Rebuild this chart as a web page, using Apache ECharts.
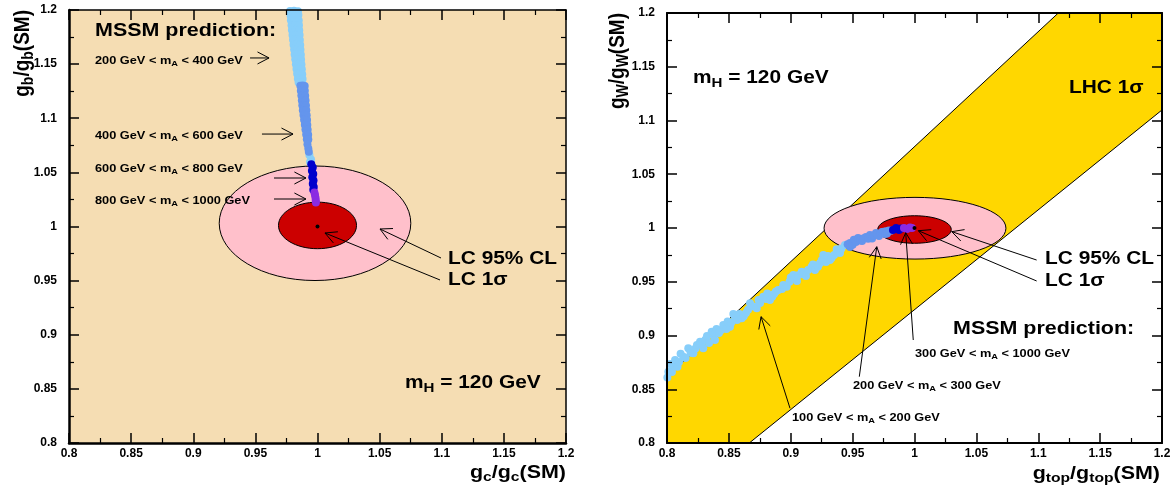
<!DOCTYPE html>
<html>
<head>
<meta charset="utf-8">
<script src="https://cdn.jsdelivr.net/npm/echarts@6/dist/echarts.min.js"></script>
<style>
html, body { margin: 0; padding: 0; background: #fff; }
#chart { width: 1170px; height: 491px; }
</style>
</head>
<body>
<div id="chart"></div>
<script>
var FONT = "'Liberation Sans', Arial, Helvetica, sans-serif";

// tick labels, same on all four axes
var tickLabels = ['0.8', '0.85', '0.9', '0.95', '1', '1.05', '1.1', '1.15', '1.2'];

// left panel: g_b vs g_c, MSSM points by m_A range
var bbLight = [
  [0.9779, 1.1990], [0.9811, 1.1992], [0.9843, 1.1988],
  [0.9783, 1.1950], [0.9816, 1.1948], [0.9846, 1.1953],
  [0.9786, 1.1905], [0.9818, 1.1908], [0.9849, 1.1902],
  [0.9791, 1.1860], [0.9821, 1.1862], [0.9851, 1.1858],
  [0.9794, 1.1815], [0.9825, 1.1818], [0.9853, 1.1812],
  [0.9799, 1.1770], [0.9828, 1.1772], [0.9856, 1.1768],
  [0.9803, 1.1725], [0.9831, 1.1728], [0.9858, 1.1722],
  [0.9807, 1.1680], [0.9834, 1.1683], [0.9861, 1.1677],
  [0.9812, 1.1635], [0.9838, 1.1638], [0.9863, 1.1632],
  [0.9816, 1.1590], [0.9841, 1.1593], [0.9866, 1.1587],
  [0.9821, 1.1545], [0.9845, 1.1548], [0.9868, 1.1542],
  [0.9826, 1.1500], [0.9849, 1.1503], [0.9871, 1.1497],
  [0.9831, 1.1455], [0.9853, 1.1458], [0.9874, 1.1452],
  [0.9836, 1.1410], [0.9857, 1.1413], [0.9877, 1.1407],
  [0.9842, 1.1365], [0.9861, 1.1368], [0.9880, 1.1362],
  [0.9848, 1.1330], [0.9876, 1.1328],
  [0.9935, 1.0660], [0.9948, 1.0620], [0.9940, 1.0595]
];
var bbCorn = [
  [0.9862, 1.1300], [0.9882, 1.1302], [0.9897, 1.1298],
  [0.9866, 1.1255], [0.9898, 1.1253],
  [0.9870, 1.1210], [0.9886, 1.1212], [0.9901, 1.1208],
  [0.9874, 1.1165], [0.9904, 1.1163],
  [0.9878, 1.1120], [0.9893, 1.1122], [0.9907, 1.1118],
  [0.9882, 1.1075], [0.9910, 1.1073],
  [0.9887, 1.1030], [0.9900, 1.1032], [0.9913, 1.1028],
  [0.9892, 1.0985], [0.9916, 1.0983],
  [0.9898, 1.0940], [0.9918, 1.0938],
  [0.9903, 1.0895], [0.9921, 1.0893],
  [0.9909, 1.0850], [0.9925, 1.0848],
  [0.9914, 1.0805], [0.9926, 1.0803],
  [0.9919, 1.0760], [0.9926, 1.0720], [0.9930, 1.0690]
];
var bbBlue = [
  [0.9950, 1.0575], [0.9962, 1.0545], [0.9955, 1.0515], [0.9966, 1.0485],
  [0.9958, 1.0455], [0.9968, 1.0425], [0.9962, 1.0395], [0.9970, 1.0365], [0.9966, 1.0340]
];
var bbPurple = [[0.9975, 1.0315], [0.9980, 1.0290], [0.9984, 1.0265], [0.9986, 1.0240], [0.9987, 1.0222]];

// ellipses: [cx, cy, rx, ry]
var pinkL = [0.998, 1.003, 0.0771, 0.0529];
var redL = [1.0, 1.001, 0.0314, 0.0215];
var pinkR = [1.0004, 0.9998, 0.0735, 0.0287];
var redR = [1.0, 0.9986, 0.0297, 0.0128];
var smPoint = [[1.0, 1.0]];

// right panel: g_W vs g_top
var wwLight = [
  [0.8003, 0.8610], [0.8011, 0.8663], [0.8024, 0.8735], [0.8040, 0.8660], [0.8051, 0.8710],
  [0.8065, 0.8772], [0.8085, 0.8710], [0.8097, 0.8753], [0.8110, 0.8830], [0.8132, 0.8803],
  [0.8150, 0.8790], [0.8172, 0.8881], [0.8190, 0.8840], [0.8213, 0.8834], [0.8230, 0.8880],
  [0.8242, 0.8912], [0.8267, 0.8942], [0.8280, 0.8920], [0.8293, 0.8881], [0.8310, 0.8960],
  [0.8323, 0.8995], [0.8340, 0.8930], [0.8361, 0.9035], [0.8375, 0.9000], [0.8388, 0.8958],
  [0.8400, 0.9060], [0.8420, 0.9023], [0.8435, 0.9050], [0.8455, 0.9098], [0.8480, 0.9060],
  [0.8490, 0.9130], [0.8509, 0.9082], [0.8520, 0.9120], [0.8536, 0.9200], [0.8550, 0.9170],
  [0.8566, 0.9144], [0.8585, 0.9200], [0.8604, 0.9160], [0.8620, 0.9180], [0.8638, 0.9209],
  [0.8655, 0.9240], [0.8671, 0.9300], [0.8700, 0.9270], [0.8725, 0.9253], [0.8740, 0.9330],
  [0.8752, 0.9302], [0.8778, 0.9361], [0.8800, 0.9340], [0.8810, 0.9390], [0.8832, 0.9330],
  [0.8850, 0.9360], [0.8865, 0.9386], [0.8880, 0.9410], [0.8899, 0.9423], [0.8929, 0.9433],
  [0.8940, 0.9470], [0.8967, 0.9454], [0.8990, 0.9500], [0.9000, 0.9540], [0.9021, 0.9563],
  [0.9050, 0.9507], [0.9060, 0.9560], [0.9088, 0.9593], [0.9100, 0.9570], [0.9123, 0.9553],
  [0.9140, 0.9610], [0.9169, 0.9640], [0.9180, 0.9660], [0.9196, 0.9609], [0.9220, 0.9640],
  [0.9236, 0.9672], [0.9250, 0.9700], [0.9263, 0.9749], [0.9285, 0.9684], [0.9300, 0.9740],
  [0.9317, 0.9702], [0.9330, 0.9720], [0.9350, 0.9749], [0.9371, 0.9802], [0.9398, 0.9767],
  [0.9410, 0.9810], [0.9438, 0.9842]
];
var wwCorn = [
  [0.9460, 0.9850], [0.9479, 0.9860], [0.9479, 0.9823], [0.9500, 0.9845], [0.9510, 0.9890],
  [0.9527, 0.9870], [0.9544, 0.9907], [0.9560, 0.9885], [0.9576, 0.9879], [0.9590, 0.9905],
  [0.9608, 0.9916], [0.9625, 0.9900], [0.9640, 0.9935], [0.9657, 0.9902], [0.9670, 0.9930],
  [0.9689, 0.9953], [0.9700, 0.9945], [0.9713, 0.9926], [0.9725, 0.9950], [0.9737, 0.9963],
  [0.9750, 0.9965], [0.9762, 0.9944], [0.9770, 0.9970], [0.9778, 0.9949], [0.9794, 0.9977],
  [0.9810, 0.9975]
];
var wwBlue = [[0.9826, 0.9981], [0.9851, 1.0000], [0.9875, 0.9981], [0.9891, 0.9995]];
var wwPurple = [[0.9915, 1.0000], [0.9939, 0.9991], [0.9964, 1.0005], [0.9980, 1.0000]];

// LHC 1 sigma band outline
var bandX = [0.8, 0.8665, 1.2, 1.2, 1.1162, 0.8];
var bandY = [0.8, 0.8, 1.1098, 1.2, 1.2, 0.8617];

// arrows [x tail, y tail, x head, y head]
var arrowsL = [
  [0.9457, 1.1557, 0.9610, 1.1557],
  [0.9553, 1.0854, 0.9803, 1.0854],
  [0.9650, 1.0448, 0.9907, 1.0448],
  [0.9650, 1.0254, 0.9907, 1.0254],
  [1.0994, 0.9709, 1.0503, 0.9977],
  [1.0986, 0.9506, 1.0060, 0.9940]
];
var arrowsR = [
  [0.8994, 0.8323, 0.8760, 0.9175],
  [0.9554, 0.8617, 0.9695, 0.9826],
  [0.9990, 0.8958, 0.9929, 0.9956],
  [1.0987, 0.9702, 1.0301, 0.9966],
  [1.0987, 0.9507, 1.0031, 0.9975]
];

function axis(grid, pos, showLabel, lw) {
  return {
    type: 'value', gridIndex: grid, position: pos, min: 0.8, max: 1.2, interval: 0.05, z: 10,
    axisLine: { show: true, onZero: false, lineStyle: { color: '#000', width: lw } },
    axisTick: { show: true, inside: true, length: 10, lineStyle: { color: '#000', width: 1.5 } },
    minorTick: { show: true, splitNumber: 2, length: 5, lineStyle: { color: '#000', width: 1.2 } },
    splitLine: { show: false },
    axisLabel: {
      show: showLabel, color: '#000', fontFamily: FONT, fontWeight: 'bold', fontSize: 12,
      margin: (pos === 'bottom' ? 5 : 12),
      formatter: function (v, i) { return tickLabels[i]; }
    }
  };
}

function pts(data, color, ai, size) {
  return {
    type: 'scatter', xAxisIndex: ai, yAxisIndex: ai, data: data, symbolSize: size || 8,
    itemStyle: { color: color, opacity: 1 }, z: 3, silent: true
  };
}

function ellipse(e, color, ai) {
  return {
    type: 'custom', xAxisIndex: ai, yAxisIndex: ai, data: [e], z: 2, silent: true,
    renderItem: function (params, api) {
      var c = api.coord([api.value(0), api.value(1)]);
      var s = api.size([api.value(2), api.value(3)]);
      return {
        type: 'ellipse',
        shape: { cx: c[0], cy: c[1], rx: s[0], ry: s[1] },
        style: { fill: color, stroke: '#000', lineWidth: 1 }
      };
    }
  };
}

function arrows(data, ai) {
  return {
    type: 'custom', xAxisIndex: ai, yAxisIndex: ai, data: data, z: 5, silent: true,
    renderItem: function (params, api) {
      var p1 = api.coord([api.value(0), api.value(1)]);
      var p2 = api.coord([api.value(2), api.value(3)]);
      var ang = Math.atan2(p2[1] - p1[1], p2[0] - p1[0]);
      var L = 13, a = 0.48;
      var h1 = [p2[0] - L * Math.cos(ang - a), p2[1] - L * Math.sin(ang - a)];
      var h2 = [p2[0] - L * Math.cos(ang + a), p2[1] - L * Math.sin(ang + a)];
      return {
        type: 'group', children: [
          { type: 'line', shape: { x1: p1[0], y1: p1[1], x2: p2[0], y2: p2[1] }, style: { stroke: '#000', lineWidth: 1 } },
          { type: 'polyline', shape: { points: [h1, p2, h2] }, style: { stroke: '#000', fill: null, lineWidth: 1 } }
        ]
      };
    }
  };
}

function label(x, y, text, size, subSize, drop, align) {
  return {
    type: 'text', x: x, y: y, scaleX: 1.16, z: 100, silent: true,
    style: {
      text: text, fill: '#000', fontFamily: FONT, fontWeight: 'bold', fontSize: size,
      lineHeight: Math.round(size * 1.25), align: align || 'left', verticalAlign: 'middle',
      rich: { s: { fill: '#000', fontFamily: FONT, fontWeight: 'bold', fontSize: subSize, lineHeight: drop, verticalAlign: 'bottom' } }
    }
  };
}

function vtitle(x, y, text) {
  var el = label(x, y, text, 19, 14, 10, 'right');
  el.rotation = Math.PI / 2;
  el.scaleX = 1;
  el.scaleY = 1.12;
  return el;
}

var chart = echarts.init(document.getElementById('chart'));
chart.setOption({
  animation: false,
  grid: [
    { left: 69, top: 10, width: 497, height: 433, show: true, backgroundColor: '#F5DDB3', borderWidth: 0, outerBoundsMode: 'none' },
    { left: 667, top: 13, width: 495, height: 430, show: true, backgroundColor: '#fff', borderWidth: 0, outerBoundsMode: 'none' }
  ],
  xAxis: [axis(0, 'bottom', true, 2.5), axis(0, 'top', false, 1.5), axis(1, 'bottom', true, 2), axis(1, 'top', false, 2)],
  yAxis: [axis(0, 'left', true, 2.5), axis(0, 'right', false, 1.5), axis(1, 'left', true, 2), axis(1, 'right', false, 2)],
  series: [
    ellipse(pinkL, '#FFC0CB', 0),
    ellipse(redL, '#CC0000', 0),
    pts(bbLight, '#87CEFA', 0),
    pts(bbCorn, '#6495ED', 0),
    pts(bbBlue, '#0000CD', 0),
    pts(bbPurple, '#8A2BE2', 0),
    pts(smPoint, '#000', 0, 4),
    arrows(arrowsL, 0),
    {
      type: 'custom', xAxisIndex: 2, yAxisIndex: 2, data: [[bandX[0], bandY[0]]], z: 1, silent: true,
      renderItem: function (params, api) {
        var p = bandX.map(function (x, i) { return api.coord([x, bandY[i]]); });
        return { type: 'polygon', shape: { points: p }, style: { fill: '#FFD700', stroke: '#000', lineWidth: 1 } };
      }
    },
    ellipse(pinkR, '#FFC0CB', 2),
    ellipse(redR, '#CC0000', 2),
    pts(wwLight, '#87CEFA', 2),
    pts(wwCorn, '#6495ED', 2),
    pts(wwBlue, '#0000CD', 2),
    pts(wwPurple, '#8A2BE2', 2),
    pts(smPoint, '#000', 2, 4),
    arrows(arrowsR, 2)
  ],
  graphic: [
    label(95, 31, 'MSSM prediction:', 18.5, 13, 4),
    label(95, 61, '200 GeV < m{s|A} < 400 GeV', 11, 8, 4),
    label(95, 136, '400 GeV < m{s|A} < 600 GeV', 11, 8, 4),
    label(95, 169, '600 GeV < m{s|A} < 800 GeV', 11, 8, 4),
    label(95, 201, '800 GeV < m{s|A} < 1000 GeV', 11, 8, 4),
    label(448, 259, 'LC 95% CL', 18, 13, 4),
    label(448, 280, 'LC 1σ', 18, 13, 4),
    label(405, 383, 'm{s|H} = 120 GeV', 18, 13, 4),
    label(566, 473, 'g{s|c}/g{s|c}(SM)', 18.5, 13.5, 10, 'right'),
    vtitle(23, 10, 'g{s|b}/g{s|b}(SM)'),

    label(693, 78, 'm{s|H} = 120 GeV', 18, 13, 4),
    label(1069, 88, 'LHC 1σ', 18, 13, 4),
    label(1045, 259, 'LC 95% CL', 18, 13, 4),
    label(1045, 281, 'LC 1σ', 18, 13, 4),
    label(953, 329, 'MSSM prediction:', 18.5, 13, 4),
    label(915, 354, '300 GeV < m{s|A} < 1000 GeV', 11, 8, 4),
    label(853, 386, '200 GeV < m{s|A} < 300 GeV', 11, 8, 4),
    label(792, 418, '100 GeV < m{s|A} < 200 GeV', 11, 8, 4),
    label(1160, 474, 'g{s|top}/g{s|top}(SM)', 18.5, 13.5, 10, 'right'),
    vtitle(618, 13, 'g{s|W}/g{s|W}(SM)')
  ]
});
</script>
</body>
</html>
